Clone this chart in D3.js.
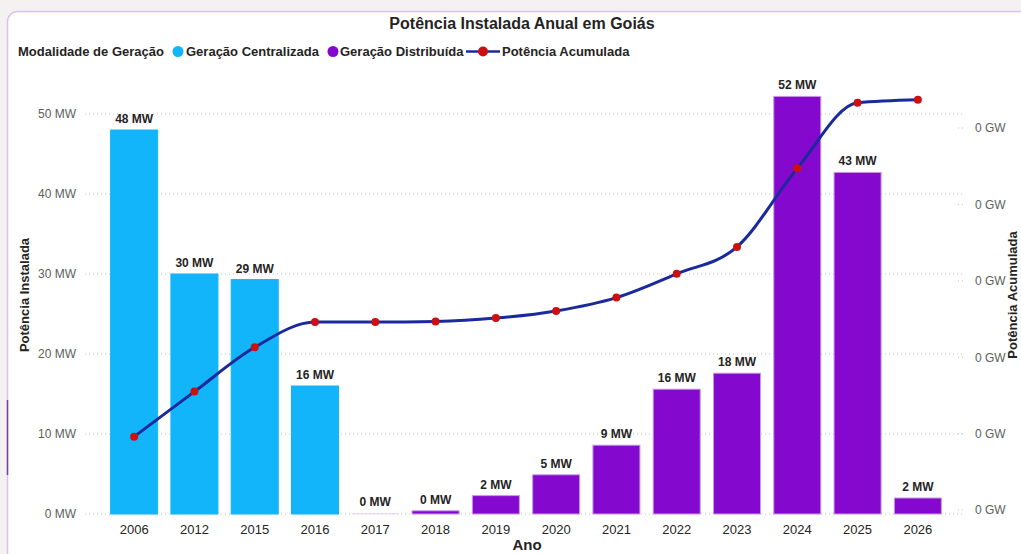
<!DOCTYPE html>
<html><head><meta charset="utf-8">
<script src="https://cdn.jsdelivr.net/npm/d3@7"></script>
<style>
body{margin:0;background:#fff;font-family:"Liberation Sans",Arial,sans-serif;}
svg{display:block;}
</style></head><body>
<svg id="chart" width="1021" height="554"></svg>
<script>
const years = ["2006","2012","2015","2016","2017","2018","2019","2020","2021","2022","2023","2024","2025","2026"];
const centralizada = [48, 30, 29.3, 16, null, null, null, null, null, null, null, null, null, null];
const distribuida = [null, null, null, null, 0.1, 0.4, 2.3, 4.9, 8.6, 15.6, 17.6, 52.2, 42.7, 2.0];
const acumulada = [48, 77.5, 106.5, 123, 123, 123.4, 125.6, 130.3, 139, 154.6, 172.2, 223.6, 266.5, 268.5]; // MW
const leftTicks = [0, 10, 20, 30, 40, 50];
const rightTicks = [0, 0.05, 0.10, 0.15, 0.20, 0.25]; // GW

const svg = d3.select("#chart");
const W = 1021, H = 554;

// card background
svg.append("rect").attr("x",0).attr("y",0).attr("width",W).attr("height",H).attr("fill","#f3f2f1");
svg.append("rect").attr("x",7.5).attr("y",11.5).attr("width",1030).attr("height",560).attr("rx",10)
  .attr("fill","#fff").attr("stroke","#dcc0ee").attr("stroke-width",1.5);
svg.append("line").attr("x1",7.5).attr("x2",7.5).attr("y1",400).attr("y2",475).attr("stroke","#7a3fa0").attr("stroke-width",1.5);

const x = d3.scaleBand().domain(years).range([104, 948]).paddingInner(0.22).paddingOuter(0.11);
const yL = d3.scaleLinear().domain([0, 50]).range([514, 114]);
const yR = d3.scaleLinear().domain([0, 0.25]).range([510, 128]);

// gridlines
const grid = svg.append("g");
grid.selectAll("line").data(leftTicks).join("line")
  .attr("x1",85).attr("x2",965).attr("y1",d=>yL(d)).attr("y2",d=>yL(d))
  .attr("stroke","#c8c6c4").attr("stroke-width",1).attr("stroke-dasharray","1,3");
grid.selectAll("line.r").data(rightTicks).join("line").attr("class","r")
  .attr("x1",958).attr("x2",966).attr("y1",d=>yR(d)).attr("y2",d=>yR(d))
  .attr("stroke","#c8c6c4").attr("stroke-width",1).attr("stroke-dasharray","1,3");

// left axis
const axL = svg.append("g").attr("transform","translate(76,0)")
  .call(d3.axisLeft(yL).tickValues(leftTicks).tickSize(0).tickPadding(0).tickFormat(d=>d+" MW"));
axL.select(".domain").remove();
axL.selectAll("text").attr("fill","#605e5c").style("font-size","12px").style("font-family","Liberation Sans, Arial");

// right axis
const axR = svg.append("g").attr("transform","translate(975,0)")
  .call(d3.axisRight(yR).tickValues(rightTicks).tickSize(0).tickPadding(0).tickFormat(d=>d3.format(".0f")(d)+" GW"));
axR.select(".domain").remove();
axR.selectAll("text").attr("fill","#605e5c").style("font-size","12px").style("font-family","Liberation Sans, Arial");

// x axis
const axX = svg.append("g").attr("transform","translate(0,518)")
  .call(d3.axisBottom(x).tickSize(0).tickPadding(7));
axX.select(".domain").remove();
axX.selectAll("text").attr("fill","#252423").style("font-size","13px").style("font-family","Liberation Sans, Arial");

// bars
const fmt = v => Math.round(v) + " MW";
function bars(data, fill, stroke){
  const d = years.map((y,i)=>({y, v:data[i]})).filter(o=>o.v!==null);
  svg.append("g").selectAll("rect").data(d).join("rect")
    .attr("x", o=>x(o.y)).attr("width", x.bandwidth())
    .attr("y", o=>yL(o.v)).attr("height", o=>Math.max(1, yL(0)-yL(o.v)))
    .attr("fill", o=>o.v<0.2 ? "#e6d2f3" : fill).attr("stroke", o=>o.v<0.2 ? "none" : stroke).attr("stroke-width",1);
  svg.append("g").selectAll("text").data(d).join("text")
    .attr("x", o=>x(o.y)+x.bandwidth()/2).attr("y", o=>yL(o.v)-7)
    .attr("text-anchor","middle").attr("fill","#252423")
    .style("font-size","12px").style("font-weight","bold").text(o=>fmt(o.v));
}
bars(centralizada, "#12b5f9", "#12b5f9");
bars(distribuida, "#8508cf", "#c49be6");

// line
const pts = years.map((y,i)=>({y, v:acumulada[i]}));
const line = d3.line().x(o=>x(o.y)+x.bandwidth()/2).y(o=>yR(o.v/1000)).curve(d3.curveMonotoneX);
svg.append("path").datum(pts).attr("d", line).attr("fill","none").attr("stroke","#1a2a9c").attr("stroke-width",3);
svg.append("g").selectAll("circle").data(pts).join("circle")
  .attr("cx", o=>x(o.y)+x.bandwidth()/2).attr("cy", o=>yR(o.v/1000)).attr("r",4).attr("fill","#cc1010");

// titles
svg.append("text").attr("x",522).attr("y",29).attr("text-anchor","middle").attr("fill","#252423")
  .style("font-size","16px").style("font-weight","bold").text("Potência Instalada Anual em Goiás");
svg.append("text").attr("x",527).attr("y",550).attr("text-anchor","middle").attr("fill","#252423")
  .style("font-size","15px").style("font-weight","bold").text("Ano");
svg.append("text").attr("transform","translate(29,295) rotate(-90)").attr("text-anchor","middle").attr("fill","#252423")
  .style("font-size","13px").style("font-weight","bold").text("Potência Instalada");
svg.append("text").attr("transform","translate(1017,295) rotate(-90)").attr("text-anchor","middle").attr("fill","#252423")
  .style("font-size","13px").style("font-weight","bold").text("Potência Acumulada");

// legend
const lg = svg.append("g").attr("transform","translate(0,56)");
lg.append("text").attr("x",18).attr("y",0).attr("fill","#252423").style("font-size","13px").style("font-weight","bold").text("Modalidade de Geração");
lg.append("circle").attr("cx",178).attr("cy",-4.5).attr("r",5.5).attr("fill","#12b5f9");
lg.append("text").attr("x",186).attr("y",0).attr("fill","#252423").style("font-size","13px").style("font-weight","bold").text("Geração Centralizada");
lg.append("circle").attr("cx",333).attr("cy",-4.5).attr("r",5.5).attr("fill","#8508cf");
lg.append("text").attr("x",340).attr("y",0).attr("fill","#252423").style("font-size","13px").style("font-weight","bold").text("Geração Distribuída");
lg.append("line").attr("x1",466).attr("x2",500).attr("y1",-4.5).attr("y2",-4.5).attr("stroke","#1a2a9c").attr("stroke-width",2.5);
lg.append("circle").attr("cx",483).attr("cy",-4.5).attr("r",5).attr("fill","#cc1010");
lg.append("text").attr("x",502).attr("y",0).attr("fill","#252423").style("font-size","13px").style("font-weight","bold").text("Potência Acumulada");
</script>
</body></html>
